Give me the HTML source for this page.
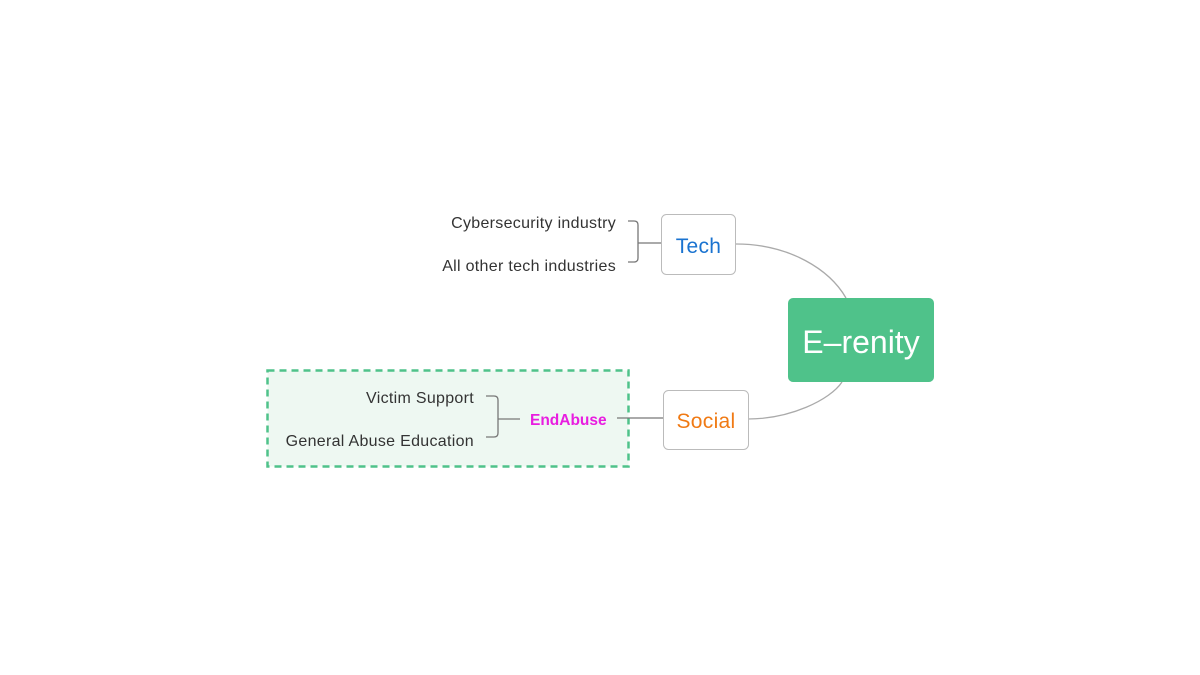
<!DOCTYPE html>
<html><head><style>
body{margin:0;width:1200px;height:675px;background:#fff;position:relative;font-family:"Liberation Sans",sans-serif;overflow:hidden}
.t{position:absolute;white-space:nowrap;color:#333;font-size:16px;letter-spacing:0.3px}
.r{text-align:right;width:300px}
</style></head><body>
<svg width="1200" height="675" style="position:absolute;left:0;top:0">
<rect x="267.5" y="370.5" width="361" height="96" fill="#eef8f2" stroke="#4fc28a" stroke-width="2.5" stroke-dasharray="7,5"/>
<path d="M736 244 C790 244 830 270 846 298" fill="none" stroke="#aaa" stroke-width="1.3"/>
<path d="M748 419 C790 419 830 400 842 382" fill="none" stroke="#aaa" stroke-width="1.3"/>
<path d="M628 221 H634 Q638 221 638 225 V258 Q638 262 634 262 H628 M638 243 H661" fill="none" stroke="#777" stroke-width="1.3"/>
<path d="M486 396 H494 Q498 396 498 400 V433 Q498 437 494 437 H486 M498 419 H520" fill="none" stroke="#777" stroke-width="1.3"/>
<path d="M617 418 H663" fill="none" stroke="#777" stroke-width="1.3"/>
<rect x="661.5" y="214.5" width="74" height="60" rx="5" fill="#fff" stroke="#bbb"/>
<rect x="663.5" y="390.5" width="85" height="59" rx="5" fill="#fff" stroke="#bbb"/>
<rect x="788" y="298" width="146" height="84" rx="5" fill="#4fc28a"/>
</svg>
<div class="t r" style="left:316px;top:215px">Cybersecurity industry</div>
<div class="t r" style="left:316px;top:258px">All other tech industries</div>
<div class="t r" style="left:174px;top:390px">Victim Support</div>
<div class="t r" style="left:174px;top:433px">General Abuse Education</div>
<div class="t" style="left:530px;top:412px;color:#e81ee0;font-weight:bold;font-size:15.5px;letter-spacing:0">EndAbuse</div>
<div class="t" style="left:661px;width:75px;text-align:center;top:235px;font-size:21px;color:#1a73d0">Tech</div>
<div class="t" style="left:663px;width:86px;text-align:center;top:410px;font-size:21px;color:#f07a14">Social</div>
<div class="t" style="left:788px;width:146px;text-align:center;top:324px;font-size:32px;color:#fff;letter-spacing:0">E–renity</div>
</body></html>
